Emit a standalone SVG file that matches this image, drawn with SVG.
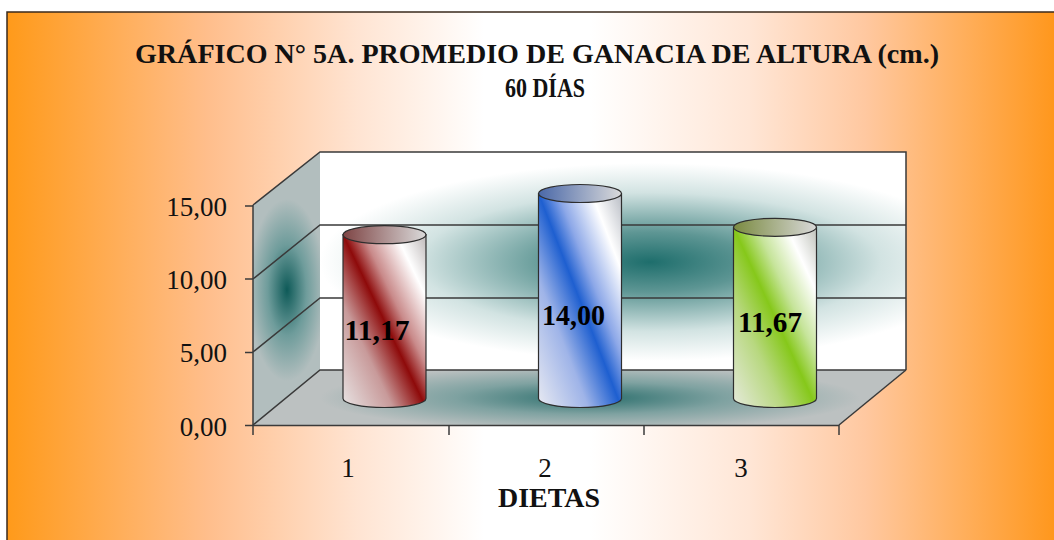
<svg xmlns="http://www.w3.org/2000/svg" width="1054" height="540" viewBox="0 0 1054 540">
<defs>
<linearGradient id="bg" x1="0" y1="0" x2="1" y2="0">
<stop offset="0" stop-color="#FF9A1A"/>
<stop offset="0.19" stop-color="#FFBE8C"/>
<stop offset="0.33" stop-color="#FFE4D2"/>
<stop offset="0.45" stop-color="#FFFFFF"/>
<stop offset="0.55" stop-color="#FFFFFF"/>
<stop offset="0.7" stop-color="#FFE6D6"/>
<stop offset="0.81" stop-color="#FFC8A0"/>
<stop offset="1" stop-color="#FF9414"/>
</linearGradient>
<radialGradient id="backGlow" gradientUnits="userSpaceOnUse" cx="650" cy="262" r="330" gradientTransform="translate(650 262) scale(1 0.3) translate(-650 -262)">
<stop offset="0" stop-color="#1E6E6C"/>
<stop offset="0.3" stop-color="#5E9694"/>
<stop offset="0.7" stop-color="#D2E3E2"/>
<stop offset="1" stop-color="#FFFFFF"/>
</radialGradient>
<radialGradient id="leftGlow" gradientUnits="userSpaceOnUse" cx="287" cy="290" r="70" gradientTransform="translate(287 290) scale(0.55 1.3) translate(-287 -290)">
<stop offset="0" stop-color="#0E5A58"/>
<stop offset="0.5" stop-color="#6E9C9B"/>
<stop offset="1" stop-color="#B2BEBE"/>
</radialGradient>
<radialGradient id="floorGlow" gradientUnits="userSpaceOnUse" cx="590" cy="398" r="270" gradientTransform="translate(590 398) scale(1 0.12) translate(-590 -398)">
<stop offset="0" stop-color="#2A6E6C"/>
<stop offset="0.5" stop-color="#7FA2A1"/>
<stop offset="1" stop-color="#BCC1C1"/>
</radialGradient>
<linearGradient id="gRed" x1="0" y1="1" x2="1" y2="0">
<stop offset="0" stop-color="#E8E4E4"/>
<stop offset="0.3" stop-color="#C89A9A"/>
<stop offset="0.5" stop-color="#8E0A0A"/>
<stop offset="0.62" stop-color="#C98A8A"/>
<stop offset="0.82" stop-color="#FFFFFF"/>
<stop offset="1" stop-color="#BDB8B8"/>
</linearGradient>
<linearGradient id="gBlue" x1="0" y1="1" x2="1" y2="0">
<stop offset="0" stop-color="#E8EAF2"/>
<stop offset="0.3" stop-color="#9FB4E8"/>
<stop offset="0.5" stop-color="#1E5FD0"/>
<stop offset="0.62" stop-color="#8DA8E8"/>
<stop offset="0.82" stop-color="#FFFFFF"/>
<stop offset="1" stop-color="#B8BCC4"/>
</linearGradient>
<linearGradient id="gGreen" x1="0" y1="1" x2="1" y2="0">
<stop offset="0" stop-color="#E6EADC"/>
<stop offset="0.3" stop-color="#B8D880"/>
<stop offset="0.5" stop-color="#86C81A"/>
<stop offset="0.64" stop-color="#C6E49A"/>
<stop offset="0.82" stop-color="#FFFFFF"/>
<stop offset="1" stop-color="#BFC2BA"/>
</linearGradient>
<linearGradient id="tRed" x1="0" y1="0" x2="1" y2="0">
<stop offset="0" stop-color="#7E4444"/>
<stop offset="1" stop-color="#DADADA"/>
</linearGradient>
<linearGradient id="tBlue" x1="0" y1="0" x2="1" y2="0">
<stop offset="0" stop-color="#4A68A8"/>
<stop offset="1" stop-color="#DADADA"/>
</linearGradient>
<linearGradient id="tGreen" x1="0" y1="0" x2="1" y2="0">
<stop offset="0" stop-color="#7A8A40"/>
<stop offset="1" stop-color="#D8D8D8"/>
</linearGradient>
<style>
.grid{stroke:#3A3A3A;stroke-width:1.5;fill:none}
.cyl{stroke:#2E2E2E;stroke-width:1.2}
.ax{font-family:"Liberation Serif","Times New Roman",serif;font-size:27px;fill:#111}
.val{font-family:"Liberation Serif","Times New Roman",serif;font-size:30px;font-weight:bold;fill:#000;text-anchor:middle}
.ttl{font-family:"Liberation Serif","Times New Roman",serif;font-size:28px;font-weight:bold;fill:#111;text-anchor:middle}
</style>
</defs>
<rect x="0" y="0" width="1054" height="540" fill="#FFFFFF"/>
<rect id="frame" x="7" y="12" width="1060" height="540" fill="url(#bg)" stroke="#3A2A1C" stroke-width="1.5"/>
<g id="title">
<text class="ttl" x="537" y="63" textLength="804" lengthAdjust="spacingAndGlyphs">GRÁFICO N° 5A. PROMEDIO DE GANACIA DE ALTURA (cm.)</text>
<text class="ttl" x="545" y="97" textLength="80" lengthAdjust="spacingAndGlyphs">60 DÍAS</text>
</g>
<g id="walls">
<rect x="320" y="152" width="586" height="218" fill="url(#backGlow)"/>
<polygon points="253,425 253,205 320,152 320,370" fill="url(#leftGlow)"/>
<polygon points="253,425 839,425 906,370 320,370" fill="url(#floorGlow)"/>
</g>
<g id="gridlines">
<polyline class="grid" points="253,205 320,152 906,152 906,370"/>
<polyline class="grid" points="253,279 320,225 906,225"/>
<polyline class="grid" points="253,352 320,298 906,298"/>
<polyline class="grid" points="253,425 320,370 906,370"/>
<polyline class="grid" points="839,425 906,370"/>
</g>
<g id="axes">
<line class="grid" x1="253" y1="205" x2="253" y2="426"/>
<line class="grid" x1="253" y1="425.5" x2="839" y2="425.5"/>
<line class="grid" x1="245" y1="206" x2="253" y2="206"/>
<line class="grid" x1="245" y1="279" x2="253" y2="279"/>
<line class="grid" x1="245" y1="352.5" x2="253" y2="352.5"/>
<line class="grid" x1="245" y1="425.5" x2="253" y2="425.5"/>
<line class="grid" x1="253" y1="425" x2="253" y2="435"/>
<line class="grid" x1="449" y1="425" x2="449" y2="435"/>
<line class="grid" x1="644" y1="425" x2="644" y2="435"/>
<line class="grid" x1="839" y1="425" x2="839" y2="435"/>
<text class="ax" x="227" y="216" text-anchor="end">15,00</text>
<text class="ax" x="227" y="289" text-anchor="end">10,00</text>
<text class="ax" x="227" y="362" text-anchor="end">5,00</text>
<text class="ax" x="227" y="436" text-anchor="end">0,00</text>
<text class="ax" x="348" y="477" text-anchor="middle">1</text>
<text class="ax" x="545" y="477" text-anchor="middle">2</text>
<text class="ax" x="741" y="477" text-anchor="middle">3</text>
<text class="ttl" x="549" y="507" textLength="102" lengthAdjust="spacingAndGlyphs">DIETAS</text>
</g>
<g id="bar1">
<path class="cyl" fill="url(#gRed)" d="M343,234.7 L343,398.5 A41.5,9 0 0 0 426,398.5 L426,234.7 Z"/>
<ellipse class="cyl" cx="384.5" cy="234.7" rx="41.5" ry="9" fill="url(#tRed)"/>
<text class="val" x="377" y="340" textLength="65" lengthAdjust="spacingAndGlyphs">11,17</text>
</g>
<g id="bar2">
<path class="cyl" fill="url(#gBlue)" d="M538.5,193.5 L538.5,398.5 A41.5,9 0 0 0 621.5,398.5 L621.5,193.5 Z"/>
<ellipse class="cyl" cx="580" cy="193.5" rx="41.5" ry="9" fill="url(#tBlue)"/>
<text class="val" x="573.5" y="325" textLength="63" lengthAdjust="spacingAndGlyphs">14,00</text>
</g>
<g id="bar3">
<path class="cyl" fill="url(#gGreen)" d="M733.5,227.3 L733.5,398.5 A41.5,9 0 0 0 816.5,398.5 L816.5,227.3 Z"/>
<ellipse class="cyl" cx="775" cy="227.3" rx="41.5" ry="9" fill="url(#tGreen)"/>
<text class="val" x="770" y="332" textLength="64" lengthAdjust="spacingAndGlyphs">11,67</text>
</g>
</svg>
